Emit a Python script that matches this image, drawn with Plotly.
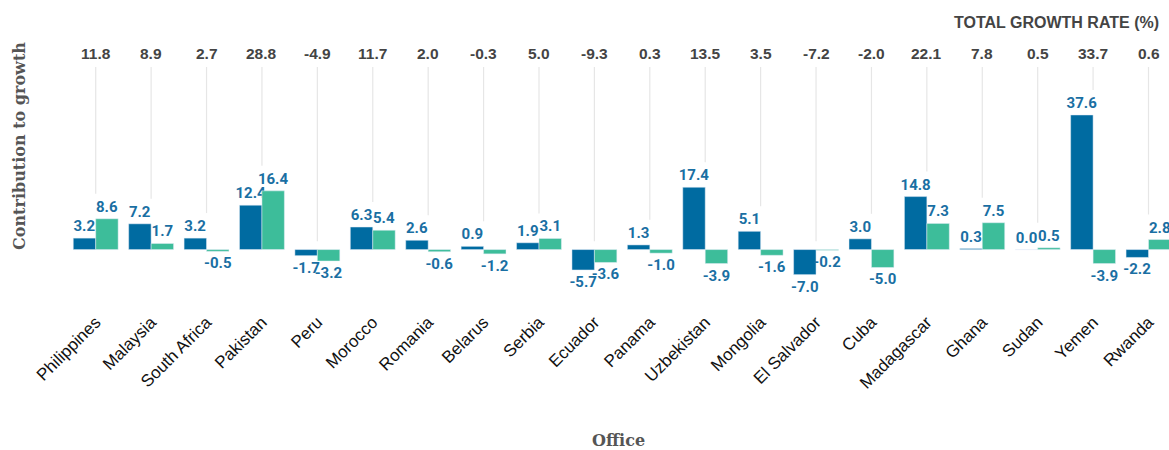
import plotly.graph_objects as go

offices = ["Philippines", "Malaysia", "South Africa", "Pakistan", "Peru", "Morocco",
           "Romania", "Belarus", "Serbia", "Ecuador", "Panama", "Uzbekistan",
           "Mongolia", "El Salvador", "Cuba", "Madagascar", "Ghana", "Sudan",
           "Yemen", "Rwanda"]
series_a = [3.2, 7.2, 3.2, 12.4, -1.7, 6.3, 2.6, 0.9, 1.9, -5.7, 1.3, 17.4,
            5.1, -7.0, 3.0, 14.8, 0.3, 0.0, 37.6, -2.2]
series_b = [8.6, 1.7, -0.5, 16.4, -3.2, 5.4, -0.6, -1.2, 3.1, -3.6, -1.0, -3.9,
            -1.6, -0.2, -5.0, 7.3, 7.5, 0.5, -3.9, 2.8]
total_growth = [11.8, 8.9, 2.7, 28.8, -4.9, 11.7, 2.0, -0.3, 5.0, -9.3, 0.3, 13.5,
                3.5, -7.2, -2.0, 22.1, 7.8, 0.5, 33.7, 0.6]

BLUE = "#006ba1"
GREEN = "#3dbd9a"
LABEL = "#1a6fa3"
Y_TOP = 51
Y_BOT = -8.5

fig = go.Figure()

# vertical guide lines from top down to just above the bars/labels
for name, a, b in zip(offices, series_a, series_b):
    m = max(0, a, b)
    end = m + (7.0 if max(a, b) > 0 or (a == 0) else 2.3)
    fig.add_shape(type="line", xref="x", yref="y", x0=name, x1=name,
                  y0=end, y1=Y_TOP, line=dict(color="#e6e6e6", width=1.2), layer="below")

fmt = lambda v: f"{v:.1f}"
bar_font = dict(family="Roboto", size=15, color=LABEL, weight="bold")
fig.add_trace(go.Bar(x=offices, y=series_a, marker_color=BLUE, name="A",
                     text=[fmt(v) for v in series_a], textposition="outside",
                     textfont=bar_font, cliponaxis=False, constraintext="none",
                     hoverinfo="skip"))
fig.add_trace(go.Bar(x=offices, y=series_b, marker_color=GREEN, name="B",
                     text=[fmt(v) for v in series_b], textposition="outside",
                     textfont=bar_font, cliponaxis=False, constraintext="none",
                     hoverinfo="skip"))

annotations = []
for name, t in zip(offices, total_growth):
    annotations.append(dict(x=name, xref="x", y=1.0, yref="paper", yanchor="middle",
                            yshift=14, text=f"<b>{t:.1f}</b>", showarrow=False,
                            font=dict(family="Liberation Sans", size=15.5, color="#444444")))
annotations.append(dict(x=0.9925, xref="paper", xanchor="right", y=1.0, yref="paper",
                        yanchor="middle", yshift=45,
                        text="<b>TOTAL GROWTH RATE (%)</b>", showarrow=False,
                        font=dict(family="Liberation Sans", size=16, color="#444444")))
annotations.append(dict(x=-0.0435, xref="paper", xanchor="center", y=0.63, yref="paper",
                        yanchor="middle", textangle=-90,
                        text="<b>Contribution to growth</b>", showarrow=False,
                        font=dict(family="DejaVu Serif", size=16, color="#555555")))
annotations.append(dict(x=0.5, xref="paper", y=0, yref="paper", yshift=-160,
                        text="<b>Office</b>", showarrow=False, yanchor="middle",
                        font=dict(family="DejaVu Serif", size=16, color="#555555")))

fig.update_layout(
    width=1169, height=450,
    margin=dict(l=68, r=0, t=67, b=170),
    plot_bgcolor="white", paper_bgcolor="white",
    barmode="group", bargap=0.19, bargroupgap=0,
    showlegend=False, hovermode=False,
    annotations=annotations,
    xaxis=dict(range=[-0.5, 19.37], tickangle=-45, showgrid=False, zeroline=False,
               showline=False, ticks="", automargin=False, ticklabelstandoff=28,
               tickfont=dict(family="Liberation Sans", size=17, color="#111111")),
    yaxis=dict(range=[Y_BOT, Y_TOP], showgrid=False, zeroline=False, showline=False,
               showticklabels=False, ticks="", automargin=False),
)
fig.write_html("out.html", config={"displayModeBar": False},
               post_script="document.body.style.margin='0';")
